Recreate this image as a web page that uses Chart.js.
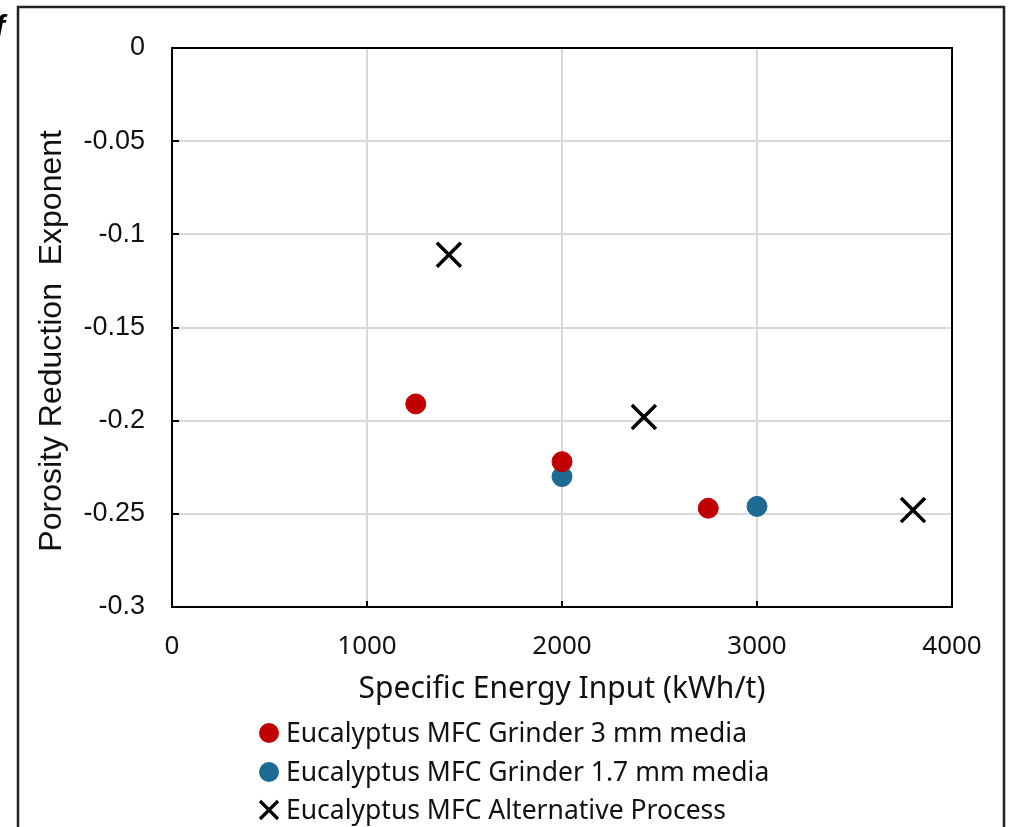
<!DOCTYPE html>
<html>
<head>
<meta charset="utf-8">
<script src="https://cdn.jsdelivr.net/npm/chart.js@4.4.1/dist/chart.umd.min.js"></script>
<style>
html,body{margin:0;padding:0;background:#fff;}
#wrap{width:1011px;height:827px;position:relative;}
</style>
</head>
<body>
<div id="wrap"><canvas id="chart" width="1011" height="827"></canvas></div>
<script>
// data
const grinder3mmX = [1250, 2000, 2750];
const grinder3mmY = [-0.191, -0.222, -0.247];
const grinder17mmX = [2000, 3000];
const grinder17mmY = [-0.230, -0.246];
const altProcessX = [1420, 2420, 3800];
const altProcessY = [-0.111, -0.198, -0.248];

const seriesNames = [
  "Eucalyptus MFC Grinder 3 mm media",
  "Eucalyptus MFC Grinder 1.7 mm media",
  "Eucalyptus MFC Alternative Process"
];
const xTickValues = [0, 1000, 2000, 3000, 4000];
const yTickValues = [0, -0.05, -0.1, -0.15, -0.2, -0.25, -0.3];

const red = "#C00000";
const blue = "#1D6A93";

function pts(xs, ys){
  return xs.map((x,i)=>({x:x, y:ys[i]}));
}

// frame, plot box, inward ticks, legend
const decor = {
  id:"decor",
  beforeDatasetsDraw(chart){
    const {ctx, chartArea:a, scales} = chart;
    ctx.save();
    ctx.strokeStyle = "#000";
    ctx.lineWidth = 2;
    ctx.strokeRect(a.left, a.top, a.right-a.left, a.bottom-a.top);
    ctx.beginPath();
    xTickValues.forEach(v=>{
      const px = Math.round(scales.x.getPixelForValue(v));
      ctx.moveTo(px, a.bottom); ctx.lineTo(px, a.bottom-6);
    });
    yTickValues.forEach(v=>{
      const py = Math.round(scales.y.getPixelForValue(v));
      ctx.moveTo(a.left, py); ctx.lineTo(a.left+7, py);
    });
    ctx.stroke();
    ctx.restore();
  },
  afterDraw(chart){
    const ctx = chart.ctx;
    ctx.save();
    // outer frame
    ctx.strokeStyle = "#222";
    ctx.lineWidth = 2.5;
    ctx.beginPath();
    ctx.moveTo(18, 830); ctx.lineTo(18, 7); ctx.lineTo(1004, 7); ctx.lineTo(1004, 830);
    ctx.stroke();
    // panel letter, cut at the edge
    ctx.fillStyle = "#000";
    ctx.font = "italic bold 30px 'Liberation Sans'";
    ctx.textBaseline = "alphabetic";
    ctx.fillText("f", -5, 36);

    // legend
    const rows = [733, 772, 810];
    ctx.font = "26.5px 'Noto Sans'";
    ctx.textBaseline = "middle";
    ctx.textAlign = "left";
    chart.data.datasets.forEach((ds,i)=>{
      const cy = rows[i], cx = 269;
      if(ds.pointStyle === "circle"){
        ctx.fillStyle = ds.backgroundColor;
        ctx.beginPath();
        ctx.arc(cx, cy, 10, 0, Math.PI*2);
        ctx.fill();
      } else {
        ctx.strokeStyle = "#000";
        ctx.lineWidth = 3.2;
        ctx.beginPath();
        ctx.moveTo(cx-9, cy-9); ctx.lineTo(cx+9, cy+9);
        ctx.moveTo(cx+9, cy-9); ctx.lineTo(cx-9, cy+9);
        ctx.stroke();
      }
      ctx.fillStyle = "#111";
      ctx.fillText(ds.label, 286, cy+1);
    });
    ctx.restore();
  }
};

new Chart(document.getElementById("chart"), {
  type:"scatter",
  data:{
    datasets:[
      {
        label:seriesNames[0],
        data:pts(grinder3mmX, grinder3mmY),
        pointStyle:"circle",
        backgroundColor:red,
        borderColor:red,
        pointRadius:10,
        pointHoverRadius:10
      },
      {
        label:seriesNames[1],
        data:pts(grinder17mmX, grinder17mmY),
        pointStyle:"circle",
        backgroundColor:blue,
        borderColor:blue,
        pointRadius:10,
        pointHoverRadius:10
      },
      {
        label:seriesNames[2],
        data:pts(altProcessX, altProcessY),
        pointStyle:"crossRot",
        backgroundColor:"#000",
        borderColor:"#000",
        borderWidth:3.5,
        pointRadius:17,
        pointHoverRadius:17
      }
    ]
  },
  options:{
    responsive:false,
    animation:false,
    devicePixelRatio:1,
    layout:{padding:{left:0, top:48, right:59, bottom:120}},
    plugins:{
      legend:{display:false},
      tooltip:{enabled:false}
    },
    scales:{
      x:{
        type:"linear",
        min:0, max:4000,
        afterBuildTicks:(s)=>{ s.ticks = xTickValues.map(v=>({value:v})); },
        afterFit:(s)=>{ s.height = 100; },
        grid:{color:"#d9d9d9", lineWidth:2, drawTicks:false},
        border:{display:false},
        ticks:{
          padding:24,
          color:"#111",
          font:{family:"'Noto Sans'", size:26},
          maxRotation:0,
          callback:(v)=>String(v)
        },
        title:{
          display:true,
          text:"Specific Energy Input (kWh/t)",
          color:"#111",
          font:{family:"'Noto Sans'", size:30},
          padding:{top:0, bottom:0}
        }
      },
      y:{
        type:"linear",
        min:-0.3, max:0,
        afterBuildTicks:(s)=>{ s.ticks = yTickValues.map(v=>({value:v})); },
        afterFit:(s)=>{ s.width = 172; },
        grid:{color:"#d9d9d9", lineWidth:2, drawTicks:false},
        border:{display:false},
        ticks:{
          padding:27,
          color:"#111",
          font:{family:"'Liberation Sans'", size:27},
          callback:(v)=>String(Math.round(v*100)/100)
        },
        title:{
          display:true,
          // trailing spaces nudge the title down as in the original
          text:"Porosity Reduction  Exponent   ",
          color:"#111",
          font:{family:"'Liberation Sans'", size:32},
          padding:{top:33, bottom:0}
        }
      }
    }
  },
  plugins:[decor]
});
</script>
</body>
</html>
